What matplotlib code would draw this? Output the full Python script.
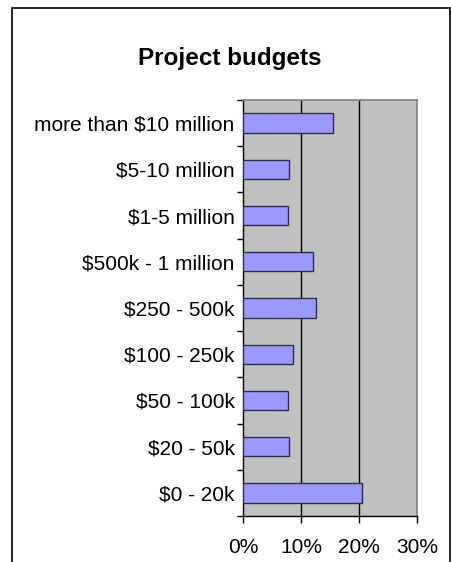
import matplotlib.pyplot as plt
from matplotlib.patches import Rectangle
from matplotlib.ticker import FixedLocator, PercentFormatter

plt.rcParams['font.family'] = ['Liberation Sans', 'DejaVu Sans']

# budget bands, bottom to top
categories = ['$0 - 20k', '$20 - 50k', '$50 - 100k', '$100 - 250k', '$250 - 500k',
              '$500k - 1 million', '$1-5 million', '$5-10 million', 'more than $10 million']
shares = [20.6, 8.0, 7.7, 8.7, 12.6, 12.0, 7.7, 8.0, 15.6]
x_ticks = [0, 10, 20, 30]

fig = plt.figure(figsize=(4.51, 5.62), dpi=100)
fig.patches.append(Rectangle((12 / 451, -0.1), 438 / 451, 1.1 - 7.5 / 562,
                             transform=fig.transFigure, fill=False,
                             edgecolor='black', linewidth=1.2))

ax = fig.add_axes([243 / 451, 1 - 516 / 562, 174 / 451, 416 / 562])
ax.set_facecolor('#C0C0C0')

ypos = list(range(len(categories)))
ax.barh(ypos, shares, height=0.42, color='#9999FF', edgecolor='#2E2E4A',
        linewidth=1.0, zorder=3)

ax.set_xlim(0, 30)
ax.set_ylim(-0.5, len(categories) - 0.5)
ax.xaxis.set_major_locator(FixedLocator(x_ticks))
ax.xaxis.set_major_formatter(PercentFormatter(decimals=0))
for v in x_ticks[1:-1]:
    ax.axvline(v, color='black', linewidth=1.0, zorder=1)

ax.set_yticks(ypos)
ax.set_yticklabels(categories)
ax.set_yticks([i - 0.5 for i in range(len(categories) + 1)], minor=True)
ax.tick_params(axis='y', which='major', length=0, pad=6, labelsize=15)
ax.tick_params(axis='y', which='minor', length=4, width=1, color='black', direction='out')
ax.tick_params(axis='x', which='major', length=5, width=1, color='black',
               direction='out', pad=11, labelsize=15)

for side in ('top', 'right'):
    ax.spines[side].set_color('#808080')
    ax.spines[side].set_linewidth(1.2)
for side in ('left', 'bottom'):
    ax.spines[side].set_color('black')
    ax.spines[side].set_linewidth(1.0)

fig.text(230 / 451, 1 - 64.5 / 562, 'Project budgets', ha='center', va='baseline',
         fontsize=17.5, fontweight='bold')

fig.savefig('out.png', dpi=100)
